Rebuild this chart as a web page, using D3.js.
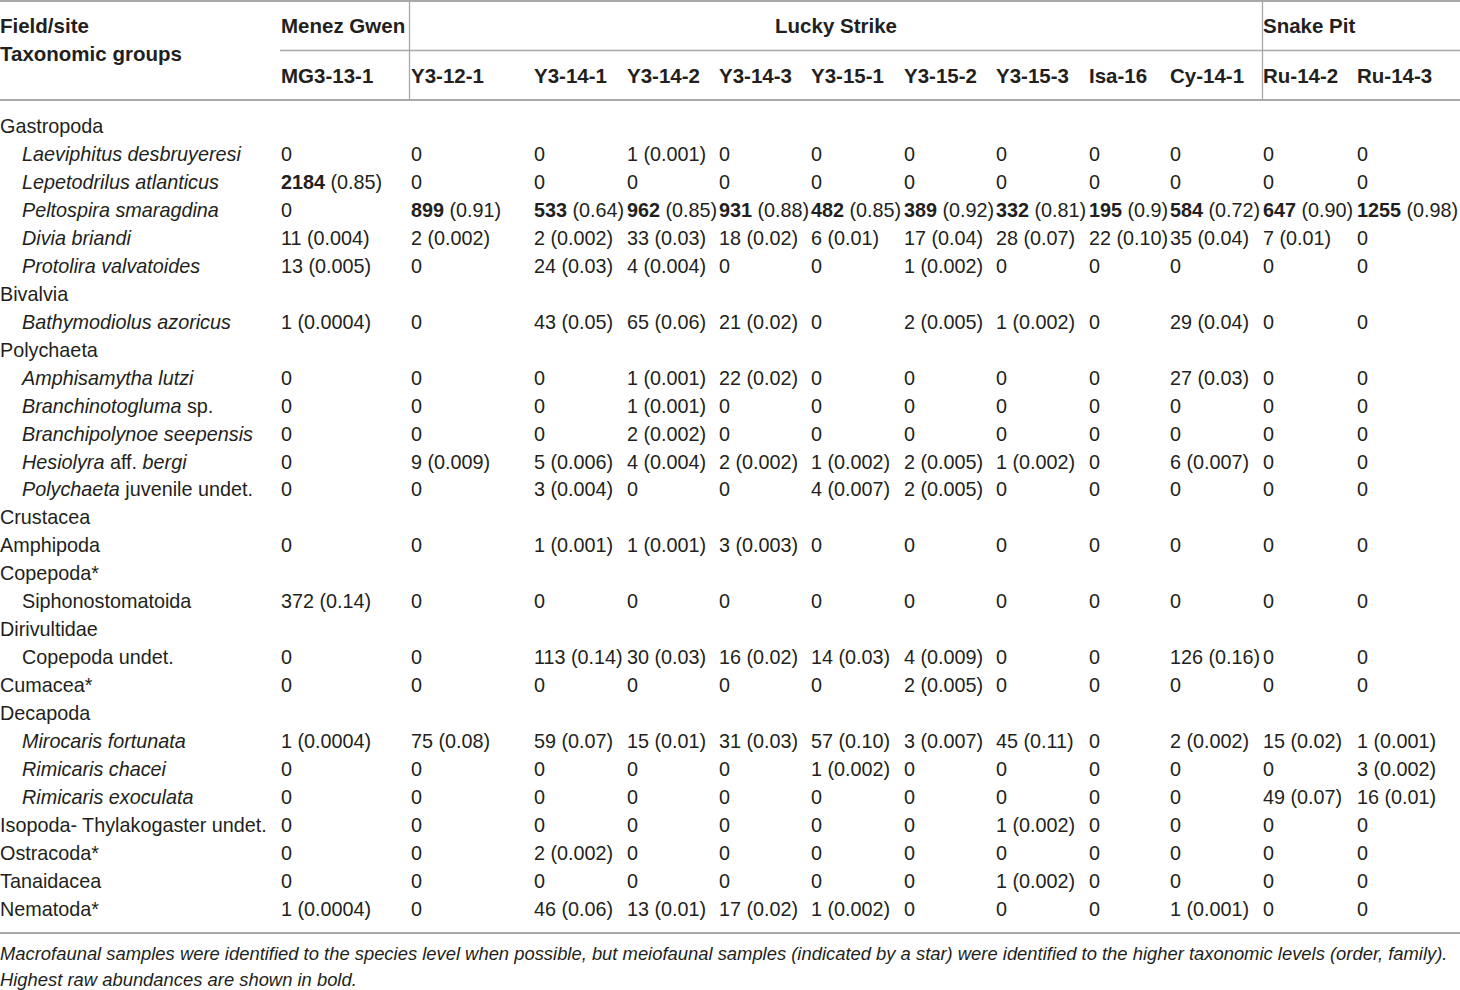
<!doctype html>
<html>
	<head>
		<meta charset="utf-8">
		<style>
			body{ margin: 0; background: #fff; }
			#chart text{ font-family: "Liberation Sans", Arial, sans-serif; fill: #231f20; }
			#chart .rule{ stroke: #a8a8a8; }
		</style>
	</head>
	<body>
		<svg id=chart></svg>

		<script src="https://d3js.org/d3.v7.min.js"></script>
		<script>
			// header: sites and the samples under them
			var sites = ["Menez Gwen", "Lucky Strike", "Snake Pit"];
			var siteSpan = [[0, 0], [1, 9], [10, 11]]; // first/last sample index of each site
			var samples = ["MG3-13-1", "Y3-12-1", "Y3-14-1", "Y3-14-2", "Y3-14-3", "Y3-15-1",
				"Y3-15-2", "Y3-15-3", "Isa-16", "Cy-14-1", "Ru-14-2", "Ru-14-3"];

			// row labels, _text_ is italic ; level 1 = indented
			var taxa = ["Gastropoda", "_Laeviphitus desbruyeresi_", "_Lepetodrilus atlanticus_", "_Peltospira smaragdina_",
				"_Divia briandi_", "_Protolira valvatoides_", "Bivalvia", "_Bathymodiolus azoricus_", "Polychaeta",
				"_Amphisamytha lutzi_", "_Branchinotogluma_ sp.", "_Branchipolynoe seepensis_", "_Hesiolyra_ aff. _bergi_",
				"_Polychaeta_ juvenile undet.", "Crustacea", "Amphipoda", "Copepoda*", "Siphonostomatoida", "Dirivultidae",
				"Copepoda undet.", "Cumacea*", "Decapoda", "_Mirocaris fortunata_", "_Rimicaris chacei_", "_Rimicaris exoculata_",
				"Isopoda- Thylakogaster undet.", "Ostracoda*", "Tanaidacea", "Nematoda*"];
			var levels = [0,1,1,1,1,1,0,1,0,1,1,1,1,1,0,0,0,1,0,1,0,0,1,1,1,0,0,0,0];

			// abundance (relative abundance) per sample, null = group heading row
			var counts = [
				null,
				["0","0","0","1 (0.001)","0","0","0","0","0","0","0","0"],
				["2184 (0.85)","0","0","0","0","0","0","0","0","0","0","0"],
				["0","899 (0.91)","533 (0.64)","962 (0.85)","931 (0.88)","482 (0.85)","389 (0.92)","332 (0.81)","195 (0.9)","584 (0.72)","647 (0.90)","1255 (0.98)"],
				["11 (0.004)","2 (0.002)","2 (0.002)","33 (0.03)","18 (0.02)","6 (0.01)","17 (0.04)","28 (0.07)","22 (0.10)","35 (0.04)","7 (0.01)","0"],
				["13 (0.005)","0","24 (0.03)","4 (0.004)","0","0","1 (0.002)","0","0","0","0","0"],
				null,
				["1 (0.0004)","0","43 (0.05)","65 (0.06)","21 (0.02)","0","2 (0.005)","1 (0.002)","0","29 (0.04)","0","0"],
				null,
				["0","0","0","1 (0.001)","22 (0.02)","0","0","0","0","27 (0.03)","0","0"],
				["0","0","0","1 (0.001)","0","0","0","0","0","0","0","0"],
				["0","0","0","2 (0.002)","0","0","0","0","0","0","0","0"],
				["0","9 (0.009)","5 (0.006)","4 (0.004)","2 (0.002)","1 (0.002)","2 (0.005)","1 (0.002)","0","6 (0.007)","0","0"],
				["0","0","3 (0.004)","0","0","4 (0.007)","2 (0.005)","0","0","0","0","0"],
				null,
				["0","0","1 (0.001)","1 (0.001)","3 (0.003)","0","0","0","0","0","0","0"],
				null,
				["372 (0.14)","0","0","0","0","0","0","0","0","0","0","0"],
				null,
				["0","0","113 (0.14)","30 (0.03)","16 (0.02)","14 (0.03)","4 (0.009)","0","0","126 (0.16)","0","0"],
				["0","0","0","0","0","0","2 (0.005)","0","0","0","0","0"],
				null,
				["1 (0.0004)","75 (0.08)","59 (0.07)","15 (0.01)","31 (0.03)","57 (0.10)","3 (0.007)","45 (0.11)","0","2 (0.002)","15 (0.02)","1 (0.001)"],
				["0","0","0","0","0","1 (0.002)","0","0","0","0","0","3 (0.002)"],
				["0","0","0","0","0","0","0","0","0","0","49 (0.07)","16 (0.01)"],
				["0","0","0","0","0","0","0","1 (0.002)","0","0","0","0"],
				["0","0","2 (0.002)","0","0","0","0","0","0","0","0","0"],
				["0","0","0","0","0","0","0","1 (0.002)","0","0","0","0"],
				["1 (0.0004)","0","46 (0.06)","13 (0.01)","17 (0.02)","1 (0.002)","0","0","0","1 (0.001)","0","0"]
			];
			// [row, sample] where the raw count is in bold
			var boldCells = [[2,0],[3,1],[3,2],[3,3],[3,4],[3,5],[3,6],[3,7],[3,8],[3,9],[3,10],[3,11]];

			var notes = ["Macrofaunal samples were identified to the species level when possible, but meiofaunal samples (indicated by a star) were identified to the higher taxonomic levels (order, family).",
				"Highest raw abundances are shown in bold."];

			var width = 1460, height = 990;
			var chart = d3.select("#chart").attr("width", width).attr("height", height);

			var colX = d3.scaleOrdinal()
				.domain(samples)
				.range([281, 411, 534, 627, 719, 811, 904, 996, 1089, 1170, 1263, 1357]);
			var rowY = d3.scalePoint()
				.domain(d3.range(taxa.length))
				.range([126, 909]);
			var sep = [409.5, 1262.5]; // vertical rules between sites

			// rules
			chart.append("line").attr("class", "rule").attr("x1", 0).attr("x2", width).attr("y1", 1).attr("y2", 1).attr("stroke-width", 2);
			chart.append("line").attr("class", "rule").attr("x1", 280).attr("x2", width).attr("y1", 50.5).attr("y2", 50.5).attr("stroke-width", 1.3);
			chart.append("line").attr("class", "rule").attr("x1", 0).attr("x2", width).attr("y1", 100).attr("y2", 100).attr("stroke-width", 2);
			chart.append("line").attr("class", "rule").attr("x1", 0).attr("x2", width).attr("y1", 933).attr("y2", 933).attr("stroke-width", 2);
			chart.selectAll("line.sep").data(sep).enter().append("line")
				.attr("class", "rule sep")
				.attr("x1", d => d).attr("x2", d => d)
				.attr("y1", 0).attr("y2", 100).attr("stroke-width", 1.3);

			// header
			var head = chart.append("g").attr("font-weight", "bold").attr("font-size", 20.5);
			head.append("text").attr("x", 0).attr("y", 26).attr("dy", "0.35em").text("Field/site");
			head.append("text").attr("x", 0).attr("y", 54).attr("dy", "0.35em").text("Taxonomic groups");
			head.selectAll("text.site").data(sites).enter().append("text")
				.attr("class", "site")
				.attr("x", function(d, i) {
					if (i == 1) return (sep[0] + sep[1]) / 2;
					return colX(samples[siteSpan[i][0]]);
				})
				.attr("text-anchor", (d, i) => i == 1 ? "middle" : "start")
				.attr("y", 26).attr("dy", "0.35em")
				.text(d => d);
			head.selectAll("text.sample").data(samples).enter().append("text")
				.attr("class", "sample")
				.attr("x", d => colX(d))
				.attr("y", 76).attr("dy", "0.35em")
				.text(d => d);

			// row labels
			var body = chart.append("g").attr("font-size", 19.8);
			var label = body.selectAll("text.taxon").data(taxa).enter().append("text")
				.attr("class", "taxon")
				.attr("x", (d, i) => levels[i] ? 22 : 0)
				.attr("y", (d, i) => rowY(i)).attr("dy", "0.35em");
			label.each(function(d) {
				var t = d3.select(this);
				d.split("_").forEach(function(part, k) {
					if (part == "") return;
					t.append("tspan").attr("font-style", k % 2 ? "italic" : "normal").text(part);
				});
			});

			// cells
			var isBold = {};
			boldCells.forEach(c => isBold[c[0] + "_" + c[1]] = true);
			counts.forEach(function(row, r) {
				if (!row) return;
				row.forEach(function(v, c) {
					var t = body.append("text")
						.attr("x", colX(samples[c]))
						.attr("y", rowY(r)).attr("dy", "0.35em");
					if (isBold[r + "_" + c]) {
						var sp = v.indexOf(" ");
						t.append("tspan").attr("font-weight", "bold").text(v.slice(0, sp));
						t.append("tspan").text(v.slice(sp));
					} else {
						t.text(v);
					}
				});
			});

			// footnote
			chart.append("g").attr("font-size", 18.4).attr("font-style", "italic")
				.selectAll("text").data(notes).enter().append("text")
				.attr("x", 0)
				.attr("y", (d, i) => 954 + i * 26).attr("dy", "0.35em")
				.text(d => d);
		</script>
	</body>
</html>
